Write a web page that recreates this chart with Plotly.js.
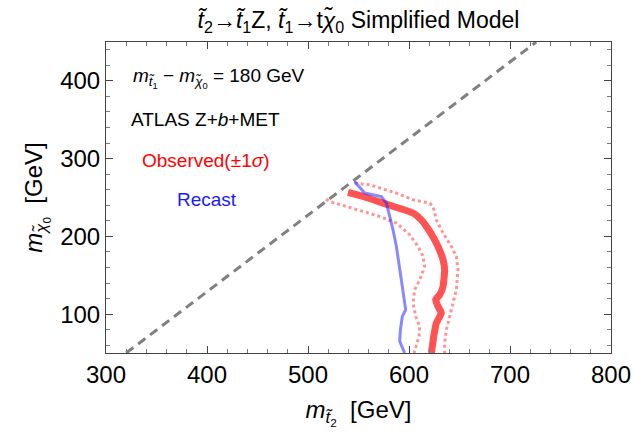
<!DOCTYPE html>
<html>
<head>
<meta charset="utf-8">
<script src="https://cdn.plot.ly/plotly-3.0.1.min.js"></script>
<style>html,body{margin:0;padding:0;background:#fff;}#chart{width:633px;height:444px;}</style>
</head>
<body>
<div id="chart"></div>
<script>
// Kinematic boundary (dashed)
const diagX = [320, 726];
const diagY = [50, 450];

// Observed limit (thick)
const obsX = [539.6, 554.5, 574.3, 604, 612.2, 620.5, 628.7, 633.7, 635.3, 633.7, 630.4, 626.4, 628.7, 632, 627.1, 624.5, 622.2];
const obsY = [256.5, 251.3, 242.8, 230, 221.3, 206.3, 187, 169.9, 157.1, 135.6, 124.9, 118.5, 109.9, 101.4, 88.6, 71.4, 50];

// Observed +1 sigma (dotted)
const obsUpX = [546.2, 561.1, 587.5, 604, 620.5, 623.8, 627.1, 633.7, 642, 646.9, 648.5, 646.9, 643.6, 640.3, 637, 635.3, 635.3];
const obsUpY = [268.5, 266.3, 255.7, 247, 242.8, 238.5, 221.3, 204.2, 187, 174.2, 157.1, 131.4, 114.3, 97.1, 80, 62.9, 50];

// Observed -1 sigma (dotted)
const obsDnX = [518, 521.5, 538, 554.5, 571, 587.5, 600.7, 608.9, 613.9, 615.5, 610.6, 605.6, 604, 606.6, 610.6, 609.9, 607.3, 605];
const obsDnY = [248, 244.9, 238.5, 232, 225.6, 217.1, 202, 187, 174.2, 161.3, 144.2, 131.4, 114.3, 97.1, 84.2, 71.4, 58.5, 50];

// Recast limit
const recX = [546.2, 552.8, 556.1, 572.6, 577.6, 580.9, 584.2, 587.5, 590.8, 592.4, 594.8, 596.7, 593.4, 591.5, 590.8, 595.7];
const recY = [270.6, 259.9, 255.7, 251.3, 242.8, 225.6, 208.5, 187, 161.3, 144.2, 122.8, 105.7, 97.1, 80, 65, 50];

const xTicks = [300, 400, 500, 600, 700, 800];
const yTicks = [100, 200, 300, 400];

const FONT = 'Liberation Sans, Arial, sans-serif';

const traces = [
  {x: diagX, y: diagY, mode: 'lines', line: {color: '#808080', width: 3, dash: '9px,6px'}, hoverinfo: 'skip'},
  {x: obsUpX, y: obsUpY, mode: 'lines', line: {color: 'rgba(255,60,60,0.55)', width: 3, dash: '3px,3px'}, hoverinfo: 'skip'},
  {x: obsDnX, y: obsDnY, mode: 'lines', line: {color: 'rgba(255,60,60,0.55)', width: 3, dash: '3px,3px'}, hoverinfo: 'skip'},
  {x: obsX, y: obsY, mode: 'lines', line: {color: 'rgba(255,40,40,0.8)', width: 7, shape: 'spline', smoothing: 0.4}, hoverinfo: 'skip'},
  {x: recX, y: recY, mode: 'lines', line: {color: 'rgba(40,40,255,0.55)', width: 3}, hoverinfo: 'skip'}
];

const axisCommon = {
  showline: true, linecolor: '#444', linewidth: 1, mirror: 'ticks',
  ticks: 'inside', ticklen: 7, tickcolor: '#444', tickwidth: 1,
  showgrid: false, zeroline: false,
  tickfont: {family: FONT, size: 24, color: '#000'},
  minor: {ticks: 'inside', ticklen: 4, tickcolor: '#777', showgrid: false}
};

const layout = {
  width: 633, height: 444,
  margin: {l: 106, r: 22, t: 42, b: 91},
  paper_bgcolor: '#fff', plot_bgcolor: '#fff',
  showlegend: false,
  font: {family: FONT, color: '#000'},
  title: {
    text: '<i>t̃</i><sub>2</sub>→<i>t̃</i><sub>1</sub>Z, <i>t̃</i><sub>1</sub>→t<i>χ̃</i><sub>0</sub> Simplified Model',
    xref: 'paper', x: 0.5, xanchor: 'center',
    yref: 'container', y: 0.955, yanchor: 'middle',
    font: {family: FONT, size: 23, color: '#000'}
  },
  xaxis: Object.assign({}, axisCommon, {
    range: [300, 800], tickvals: xTicks, ticktext: xTicks.map(String),
    minor: Object.assign({}, axisCommon.minor, {dtick: 20, tick0: 300}),
    title: {text: '<i>m</i><sub><i>t̃</i><sub>2</sub></sub>  [GeV]', font: {family: FONT, size: 24, color: '#000'}, standoff: 14}
  }),
  yaxis: Object.assign({}, axisCommon, {
    range: [50, 450], tickvals: yTicks, ticktext: yTicks.map(String),
    minor: Object.assign({}, axisCommon.minor, {dtick: 20, tick0: 0}),
    title: {text: '<i>m</i><sub><i>χ̃</i><sub>0</sub></sub>  [GeV]', font: {family: FONT, size: 24, color: '#000'}, standoff: 10}
  }),
  annotations: [
    {xref: 'x', yref: 'y', x: 324.5, y: 404, xanchor: 'left', yanchor: 'middle', showarrow: false,
     text: '<i>m</i><sub><i>t̃</i><sub>1</sub></sub> − <i>m</i><sub><i>χ̃</i><sub>0</sub></sub> = 180 GeV',
     font: {family: FONT, size: 19, color: '#000'}},
    {xref: 'x', yref: 'y', x: 398.8, y: 350, xanchor: 'center', yanchor: 'middle', showarrow: false,
     text: 'ATLAS Z+<i>b</i>+MET', font: {family: FONT, size: 19, color: '#000'}},
    {xref: 'x', yref: 'y', x: 398.8, y: 297, xanchor: 'center', yanchor: 'middle', showarrow: false,
     text: 'Observed(±1<i>σ</i>)', font: {family: FONT, size: 19, color: '#ff0000'}},
    {xref: 'x', yref: 'y', x: 399.5, y: 248, xanchor: 'center', yanchor: 'middle', showarrow: false,
     text: 'Recast', font: {family: FONT, size: 19, color: '#1a1aff'}}
  ]
};

Plotly.newPlot('chart', traces, layout, {displayModeBar: false, staticPlot: true});
</script>
</body>
</html>
